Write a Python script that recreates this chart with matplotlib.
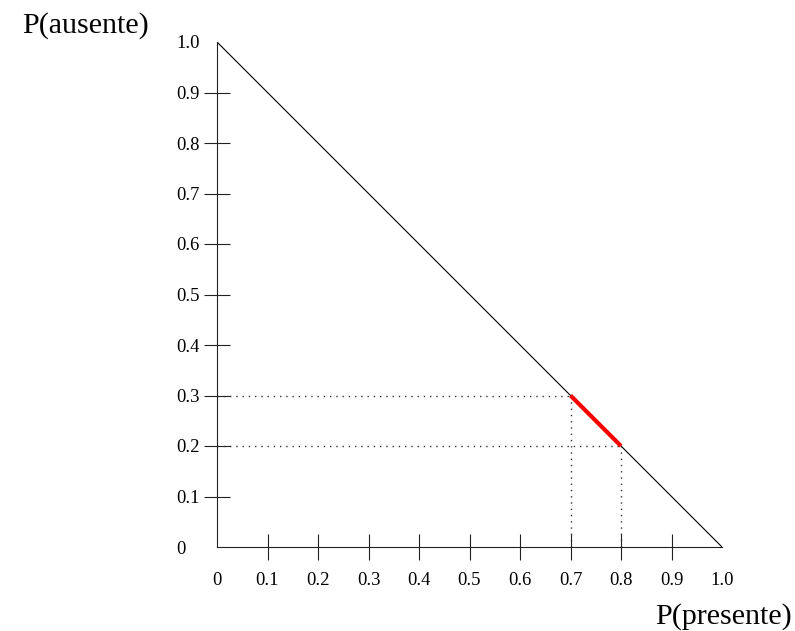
import matplotlib
matplotlib.use("Agg")
import matplotlib.pyplot as plt

# data
tick_vals = [0, 0.1, 0.2, 0.3, 0.4, 0.5, 0.6, 0.7, 0.8, 0.9, 1.0]
tick_labels = ["0", "0.1", "0.2", "0.3", "0.4", "0.5", "0.6", "0.7", "0.8", "0.9", "1.0"]
simplex_x = [0, 1.0]
simplex_y = [1.0, 0]
interval_x = [0.7, 0.8]
interval_y = [0.3, 0.2]

plt.rcParams['font.family'] = ['Liberation Serif', 'DejaVu Serif']

W, H = 795, 631
fig = plt.figure(figsize=(W / 100, H / 100), dpi=100)
ax = fig.add_axes([217 / W, (H - 547) / H, 505 / W, 505 / H])
ax.set_xlim(0, 1)
ax.set_ylim(0, 1)
ax.patch.set_visible(False)

for s in ['top', 'right']:
    ax.spines[s].set_visible(False)
for s in ['left', 'bottom']:
    ax.spines[s].set_linewidth(0.8)
    ax.spines[s].set_color('#222222')

# diagonal p(presente) + p(ausente) = 1
ax.plot(simplex_x, simplex_y, color='black', lw=0.8, solid_capstyle='butt')

# dotted guides
for px, py in zip(interval_x, interval_y):
    ax.plot([0, px], [py, py], color='#333333', lw=1.0, linestyle=(0, (1, 3.5)))
    ax.plot([px, px], [0, py], color='#333333', lw=1.0, linestyle=(0, (1, 3.5)))

# highlighted interval
ax.plot(interval_x, interval_y, color='#ff0000', lw=3, solid_capstyle='butt')

ax.set_xticks(tick_vals)
ax.set_xticklabels(tick_labels, fontsize=13.4)
ax.set_yticks(tick_vals)
ax.set_yticklabels(tick_labels, fontsize=13.4, ha='left')

ax.tick_params(axis='x', direction='inout', length=18.5, width=0.8, color='#222222', pad=9)
ax.tick_params(axis='y', direction='inout', length=19, width=0.8, color='#222222', pad=19.5)

# no tick marks at 0 and 1.0
for axis in (ax.xaxis, ax.yaxis):
    ticks = axis.get_major_ticks()
    ticks[0].tick1line.set_visible(False)
    ticks[-1].tick1line.set_visible(False)

fig.text(22 / W, 1 - 33 / H, "P(ausente)", fontsize=21.6, ha='left', va='baseline')
fig.text(792 / W, 1 - 624 / H, "P(presente)", fontsize=21.6, ha='right', va='baseline')

fig.savefig("out.png", dpi=100)
